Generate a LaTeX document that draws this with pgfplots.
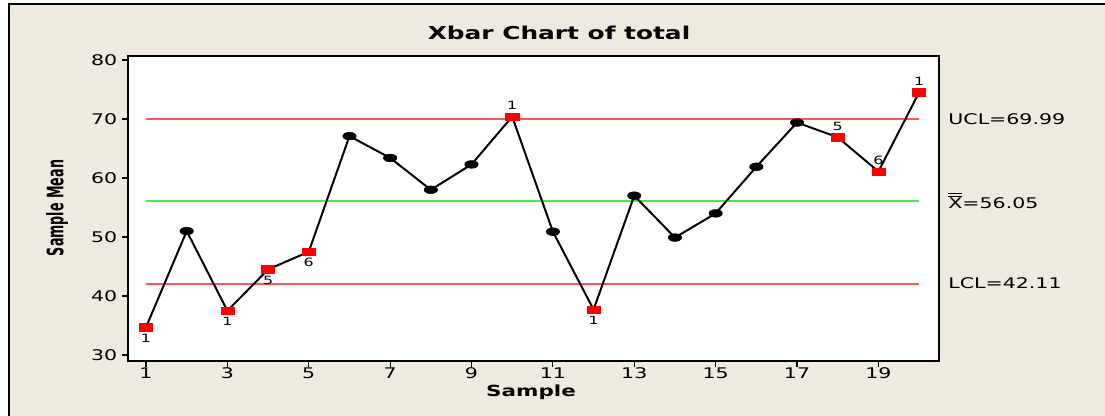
\documentclass[border=0pt]{standalone}
\usepackage{fontspec}
\setmainfont{DejaVu Sans}[FakeStretch=1.4]
\newfontfamily\narrowfam{DejaVu Sans}[FakeStretch=0.56]
\usepackage{pgfplots}
\usepackage{pgfplotstable}
\pgfplotsset{compat=1.18}
\definecolor{bgbeige}{RGB}{238,234,224}
\definecolor{ctlred}{RGB}{255,85,85}
\definecolor{ctlgreen}{RGB}{70,235,70}
\newcommand{\xdbar}{\sbox0{X}\rlap{\raisebox{\dimexpr\ht0+1.4pt}{\rule{\wd0}{0.6pt}}}\rlap{\raisebox{\dimexpr\ht0+3.0pt}{\rule{\wd0}{0.6pt}}}X}

\pgfplotstableread{
x y
1 34.7
2 51.0
3 37.5
4 44.5
5 47.5
6 67.1
7 63.4
8 58.0
9 62.3
10 70.4
11 50.9
12 37.7
13 57.0
14 49.9
15 54.0
16 61.9
17 69.4
18 66.9
19 61.1
20 74.5
}\xbardata

\pgfplotstableread{
x ucl cl lcl
1 69.99 56.05 42.11
20 69.99 56.05 42.11
}\ctllimits

\begin{document}
\begin{tikzpicture}[x=0.75pt,y=0.75pt]
\useasboundingbox (0,0) rectangle (1105,416);
\fill[white] (0,0) rectangle (1105,416);
\fill[bgbeige] (9,0) rectangle (1105,412);
\draw[line width=1.5pt] (9,0) -- (9,412) -- (1105,412);
\node[font=\fontsize{13.3}{15}\selectfont\bfseries] at (559,383) {Xbar Chart of total};
\node[font=\fontsize{17}{19}\selectfont\narrowfam\bfseries, rotate=90] at (57,208) {Sample Mean};
\node[font=\fontsize{11.5}{13}\selectfont\bfseries] at (531,24) {Sample};
\begin{axis}[
  at={(96pt,41.25pt)}, anchor=south west,
  width=608.25pt, height=228.75pt, scale only axis,
  xmin=0.557, xmax=20.49, ymin=28.98, ymax=80.68,
  axis background/.style={fill=white},
  axis line style={line width=1.2pt},
  xtick={1,3,...,19}, ytick={30,40,...,80},
  xtick pos=left, ytick pos=left,
  tick align=outside, major tick length=4.5pt,
  tick style={black, line width=0.9pt},
  tick label style={font=\fontsize{11}{13}\selectfont},
  xticklabel style={yshift=3pt},
  /pgf/number format/assume math mode=true,
  clip=false,
]
\addplot[color=ctlgreen, line width=1.5pt] table[x=x, y=cl] {\ctllimits};
\addplot[color=ctlred, line width=1.5pt] table[x=x, y=ucl] {\ctllimits};
\addplot[color=ctlred, line width=1.5pt] table[x=x, y=lcl] {\ctllimits};
\addplot[color=black, line width=1.5pt, no marks] table[x=x, y=y] {\xbardata};
\addplot[only marks, mark=*, mark size=2.9pt, mark options={xscale=1.74, fill=black, draw=black}]
  coordinates {(2,51.0) (6,67.1) (7,63.4) (8,58.0) (9,62.3) (11,50.9) (13,57.0) (14,49.9) (15,54.0) (16,61.9) (17,69.4)};
\addplot[only marks, mark=square*, mark size=2.8pt, mark options={xscale=1.77, fill=red, draw=red},
  nodes near coords, point meta=explicit symbolic,
  nodes near coords style={anchor=center, yshift=-8.3pt, font=\fontsize{8.5}{9}\selectfont, text=black}]
  coordinates {(1,34.7)[1] (3,37.5)[1] (4,44.5)[5] (5,47.5)[6] (12,37.7)[1]};
\addplot[only marks, mark=square*, mark size=2.8pt, mark options={xscale=1.77, fill=red, draw=red},
  nodes near coords, point meta=explicit symbolic,
  nodes near coords style={anchor=center, yshift=8.3pt, font=\fontsize{8.5}{9}\selectfont, text=black}]
  coordinates {(10,70.4)[1] (18,66.9)[5] (19,61.1)[6] (20,74.5)[1]};
\node[anchor=west, font=\fontsize{11}{13}\selectfont, xshift=3.5pt] at (axis cs:20.49,69.99) {UCL=69.99};
\node[anchor=west, font=\fontsize{11}{13}\selectfont, xshift=3.5pt] at (axis cs:20.49,56.05) {\xdbar=56.05};
\node[anchor=west, font=\fontsize{11}{13}\selectfont, xshift=3.5pt] at (axis cs:20.49,42.11) {LCL=42.11};
\end{axis}
\end{tikzpicture}
\end{document}
